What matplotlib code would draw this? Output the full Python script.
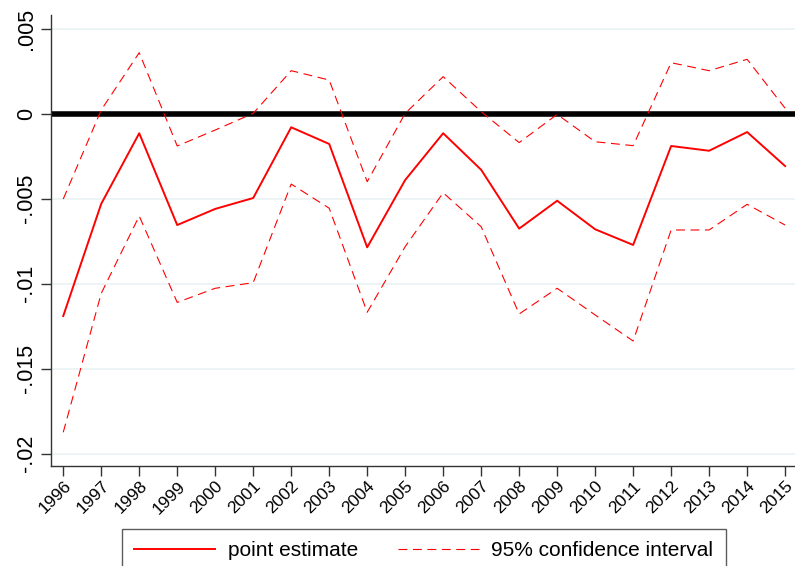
import numpy as np
import matplotlib
matplotlib.use('Agg')
import matplotlib.pyplot as plt
from matplotlib.lines import Line2D

plt.rcParams['font.family'] = ['Liberation Sans', 'DejaVu Sans']

# Оценки по годам
years = np.arange(1996, 2016)
point_est = [-0.0119, -0.0053, -0.00115, -0.00655, -0.0056, -0.00496, -0.0008, -0.00178,
             -0.00786, -0.0039, -0.00115, -0.0033, -0.00676, -0.00512, -0.0068, -0.00772,
             -0.0019, -0.00218, -0.00108, -0.00308]
ci_upper = [-0.00502, 0.00022, 0.00359, -0.0019, -0.00096, 0.00002, 0.00253, 0.00198,
            -0.004, 0.00002, 0.00218, 0.00012, -0.0017, -0.00004, -0.00165, -0.00188,
            0.003, 0.00253, 0.0032, 0.00032]
ci_lower = [-0.01874, -0.01057, -0.00602, -0.0111, -0.01027, -0.00994, -0.00414, -0.00556,
            -0.01168, -0.00782, -0.00465, -0.00665, -0.01178, -0.01027, -0.01184, -0.01337,
            -0.00684, -0.00684, -0.00533, -0.00655]

y_ticks = [0.005, 0, -0.005, -0.01, -0.015, -0.02]
y_labels = ['.005', '0', '-.005', '-.01', '-.015', '-.02']

fig = plt.figure(figsize=(7.95, 5.66), dpi=100)
ax = fig.add_axes([50.7 / 795, 1 - 466 / 566, 1 - 50.7 / 795, (466 - 15) / 566])

for yt in y_ticks:
    ax.axhline(yt, color='#eaf2f3', lw=1.2, zorder=0)

ax.axhline(0, color='black', lw=4, zorder=2)

ax.plot(years, point_est, color='red', lw=1.4, zorder=3)
ax.plot(years, ci_upper, color='red', lw=0.8, dashes=(8, 5), zorder=3)
ax.plot(years, ci_lower, color='red', lw=0.8, dashes=(8, 5), zorder=3)

ax.set_xlim(1995.67, 2015.26)
ax.set_ylim(-0.020724, 0.005806)

ax.set_yticks(y_ticks)
ax.set_yticklabels(y_labels, rotation=90, va='center', fontsize=15.5)
ax.set_xticks(years)
ax.set_xticklabels([str(y) for y in years], rotation=45, ha='right', va='top',
                   rotation_mode='anchor', fontsize=12.5)

ax.tick_params(axis='both', direction='out', length=7, width=1, color='#333333')
ax.tick_params(axis='y', pad=3)
ax.tick_params(axis='x', pad=2)

for side in ['top', 'right']:
    ax.spines[side].set_visible(False)
for side in ['left', 'bottom']:
    ax.spines[side].set_color('#333333')
    ax.spines[side].set_linewidth(1)

# Легенда под графиком
handles = [Line2D([], [], color='red', lw=1.4),
           Line2D([], [], color='red', lw=0.8, dashes=(8, 5))]
leg = fig.legend(handles, ['point estimate', '95% confidence interval'],
                 loc='upper center', bbox_to_anchor=(0.533, 1 - 529 / 566),
                 ncol=2, fontsize=15, frameon=True, fancybox=False,
                 edgecolor='#333333', handlelength=3.9, handletextpad=0.6,
                 columnspacing=1.9, borderpad=0.6, borderaxespad=0)
leg.get_frame().set_linewidth(1)

fig.savefig('out.png', dpi=100)
